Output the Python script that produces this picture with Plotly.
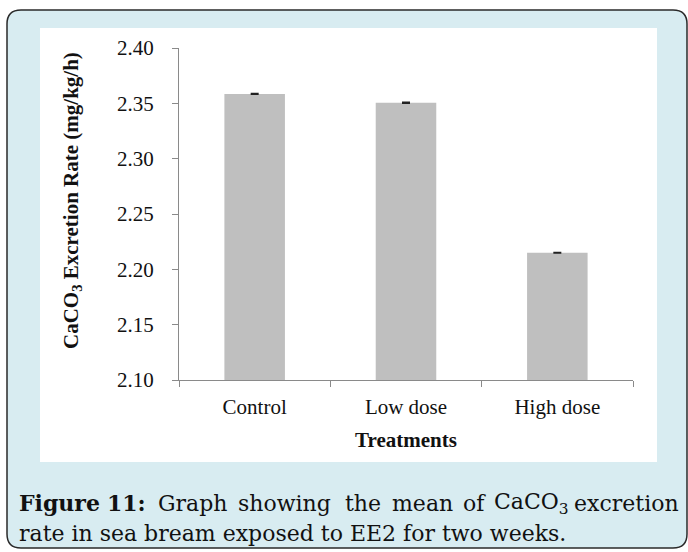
import plotly.graph_objects as go

categories = ["Control", "Low dose", "High dose"]
means = [2.3585, 2.3505, 2.2150]
errors = [0.0004, 0.0004, 0.0003]
y_ticks = [2.10, 2.15, 2.20, 2.25, 2.30, 2.35, 2.40]

W, H = 688, 552
L, R, T, B = 179, 633, 48, 380  # plot area in px


def fx(px):
    return (px - L) / (R - L)


def fy(py):
    return (B - py) / (B - T)


fig = go.Figure()
fig.add_trace(go.Bar(
    x=categories, y=means,
    marker=dict(color="#bfbfbf", line=dict(width=0)),
    width=0.4,
    error_y=dict(type="data", array=errors, visible=True,
                 color="#222222", thickness=1.5, width=4),
))

# frame (rounded rect) and white panel
x0, y0, x1, y1, r = fx(7), fy(10), fx(687), fy(548), 14
rx = r / (R - L)
ry = r / (B - T)
path = (f"M {x0+rx},{y0} L {x1-rx},{y0} Q {x1},{y0} {x1},{y0-ry} "
        f"L {x1},{y1+ry} Q {x1},{y1} {x1-rx},{y1} "
        f"L {x0+rx},{y1} Q {x0},{y1} {x0},{y1+ry} "
        f"L {x0},{y0-ry} Q {x0},{y0} {x0+rx},{y0} Z")
shapes = [
    dict(type="path", xref="paper", yref="paper", path=path,
         fillcolor="#d8ecf1", line=dict(color="#2a2a2a", width=1.5), layer="below"),
    dict(type="rect", xref="paper", yref="paper",
         x0=fx(40), x1=fx(657), y0=fy(28), y1=fy(462),
         fillcolor="white", line=dict(width=0), layer="below"),
]

serif = "Liberation Serif, Times New Roman, serif"
cap_family = "DejaVu Serif, Liberation Serif, serif"
annotations = [
    dict(text="<b>CaCO<sub>3</sub> Excretion Rate (mg/kg/h)</b>", xref="paper", yref="paper",
         x=fx(72), y=fy(201), textangle=-90, showarrow=False,
         xanchor="center", yanchor="middle",
         font=dict(family=serif, size=21, color="#111111")),
    dict(text="<b>Treatments</b>", xref="paper", yref="paper",
         x=fx(406), y=fy(440), showarrow=False, xanchor="center", yanchor="middle",
         font=dict(family=serif, size=21, color="#111111")),
]

# caption, line 1 justified word by word
cap_font = dict(family=cap_family, size=22, color="#111111")
line1 = [("<b>Figure</b>", 17), ("<b>11:</b>", 105), ("Graph", 156), ("showing", 236),
         ("the", 343), ("mean", 390), ("of", 461), ("CaCO<sub>3</sub>", 492),
         ("excretion", 572)]
for txt, px in line1:
    annotations.append(dict(text=txt, xref="paper", yref="paper", x=fx(px), y=fy(503),
                            showarrow=False, xanchor="left", yanchor="middle",
                            font=cap_font))
annotations.append(dict(text="rate in sea bream exposed to EE2 for two weeks.",
                        xref="paper", yref="paper", x=fx(17), y=fy(533),
                        showarrow=False, xanchor="left", yanchor="middle", font=cap_font))

fig.update_layout(
    width=W, height=H,
    margin=dict(l=L, r=W - R, t=T, b=H - B, pad=0),
    paper_bgcolor="white",
    plot_bgcolor="rgba(0,0,0,0)",
    showlegend=False,
    bargap=0.6,
    shapes=shapes,
    annotations=annotations,
    font=dict(family=serif, size=21, color="#111111"),
)
fig.update_yaxes(
    range=[2.10, 2.40], tickvals=y_ticks, tickformat=".2f",
    showgrid=False, zeroline=False,
    showline=True, linecolor="#8a8a8a", linewidth=1.2,
    ticks="outside", ticklen=6, tickcolor="#8a8a8a", tickwidth=1.2,
    ticklabelstandoff=14,
    tickfont=dict(family=serif, size=21, color="#111111"),
)
fig.update_xaxes(
    showgrid=False, zeroline=False,
    showline=True, linecolor="#8a8a8a", linewidth=1.2,
    ticks="outside", tickson="boundaries", ticklen=6, tickcolor="#8a8a8a", tickwidth=1.2,
    ticklabelstandoff=8,
    tickfont=dict(family=serif, size=21, color="#111111"),
)

fig.write_html("out.html", config={"displayModeBar": False},
               post_script="document.body.style.margin='0';")
